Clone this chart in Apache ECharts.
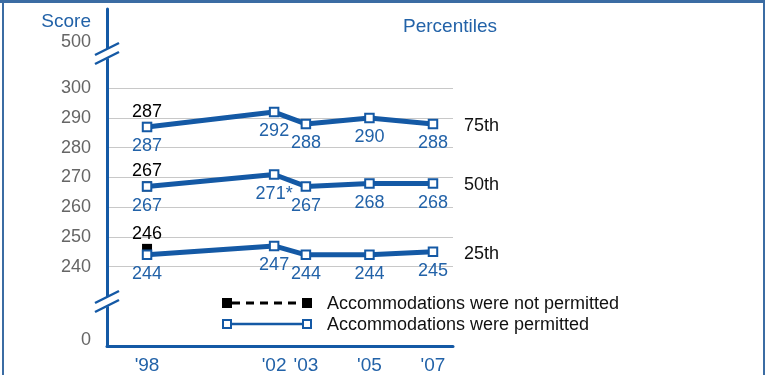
<!DOCTYPE html>
<html>
<head>
<meta charset="utf-8">
<script src="https://cdn.jsdelivr.net/npm/echarts@6/dist/echarts.min.js"></script>
<style>
  html, body { margin: 0; padding: 0; background: #fff; }
  #chart { width: 765px; height: 375px; }
</style>
</head>
<body>
<div id="chart"></div>
<script>
// years on the x axis (placed by year, so '02 and '03 sit close together)
const years = [1998, 2002, 2003, 2005, 2007];

// accommodations permitted
const p75 = [287, 292, 288, 290, 288];
const p50 = [267, 271, 267, 268, 268];
const p25 = [244, 247, 244, 244, 245];
const p50Notes = ['', '*', '', '', ''];

// accommodations not permitted (1998 only)
const notPermittedYear = 1998;
const np75 = 287;
const np50 = 267;
const np25 = 246;

const gridTicks = [240, 250, 260, 270, 280, 290, 300];
// the broken axis: "0" and "500" are drawn at these spots on the scale
const breakLow = 215.35;
const breakHigh = 315.6;

const BLUE = '#1459a5';
const TEXT_BLUE = '#2262a8';
const FONT = 'Liberation Sans, Arial, sans-serif';

const chart = echarts.init(document.getElementById('chart'));

function permittedSeries(name, values, endName, notes) {
  return {
    name: name,
    type: 'line',
    z: 4,
    data: years.map((y, i) => [y, values[i]]),
    lineStyle: { color: BLUE, width: 5 },
    symbol: 'rect',
    symbolSize: 8.5,
    itemStyle: { color: '#fff', borderColor: BLUE, borderWidth: 2 },
    label: {
      show: true,
      position: 'bottom',
      distance: 5,
      color: TEXT_BLUE,
      fontSize: 18,
      fontFamily: FONT,
      formatter: p => p.value[1] + (notes ? notes[p.dataIndex] : '')
    },
    endLabel: {
      show: true,
      formatter: endName,
      color: '#111',
      fontSize: 18,
      fontFamily: FONT,
      distance: 31,
      offset: [0, 2]
    },
    animation: false
  };
}

function notPermittedSeries(name, value) {
  return {
    name: name,
    type: 'line',
    z: 2,
    data: [[notPermittedYear, value]],
    symbol: 'rect',
    symbolSize: 10,
    itemStyle: { color: '#000' },
    label: {
      show: true,
      position: 'top',
      distance: 1,
      color: '#000',
      fontSize: 18,
      fontFamily: FONT
    },
    animation: false
  };
}

const option = {
  animation: false,
  textStyle: { fontFamily: FONT },
  title: {
    text: 'Percentiles',
    left: 398,
    top: 12,
    textStyle: { color: TEXT_BLUE, fontSize: 19, fontWeight: 'normal', fontFamily: FONT }
  },
  grid: { left: 107, right: 312, top: 9, bottom: 28 },
  xAxis: {
    type: 'value',
    min: 1996.74,
    max: 2007.63,
    axisLine: { show: true, onZero: false, lineStyle: { color: BLUE, width: 3 } },
    axisTick: { show: false },
    splitLine: { show: false },
    axisLabel: {
      customValues: years,
      formatter: v => "'" + String(v).slice(2),
      color: TEXT_BLUE,
      fontSize: 19,
      margin: 10
    }
  },
  yAxis: {
    type: 'value',
    min: 213.34,
    max: 326.65,
    name: 'Score',
    nameLocation: 'end',
    nameGap: -13,
    nameTextStyle: {
      color: TEXT_BLUE, fontSize: 19, align: 'right', verticalAlign: 'middle',
      padding: [0, 16, 0, 0]
    },
    axisLine: { show: true, lineStyle: { color: BLUE, width: 3 } },
    axisTick: { show: false, customValues: gridTicks },
    splitLine: { show: true, lineStyle: { color: '#c8c8c8', width: 1 } },
    axisLabel: {
      customValues: [breakLow].concat(gridTicks, [breakHigh]),
      formatter: v => v === breakLow ? '0' : (v === breakHigh ? '500' : String(v)),
      color: v => (v === breakLow || v === breakHigh) ? TEXT_BLUE : '#666',
      fontSize: 18,
      margin: 16
    }
  },
  series: [
    notPermittedSeries('np75', np75),
    notPermittedSeries('np50', np50),
    notPermittedSeries('np25', np25),
    permittedSeries('p75', p75, '75th'),
    permittedSeries('p50', p50, '50th', p50Notes),
    permittedSeries('p25', p25, '25th')
  ],
  graphic: [
    // frame
    { type: 'rect', shape: { x: 0, y: 0, width: 765, height: 3 }, style: { fill: '#3b6ca3' }, z: 100 },
    { type: 'rect', shape: { x: 2, y: 0, width: 2, height: 375 }, style: { fill: '#3b6ca3' }, z: 100 },
    { type: 'rect', shape: { x: 763, y: 0, width: 2, height: 375 }, style: { fill: '#3b6ca3' }, z: 100 },
    // axis breaks
    { type: 'polygon', shape: { points: [[95, 55], [119, 43], [119, 53], [95, 65]] }, style: { fill: '#fff' }, z: 100 },
    { type: 'line', shape: { x1: 95, y1: 55, x2: 119, y2: 43 }, style: { stroke: BLUE, lineWidth: 2.5 }, z: 101 },
    { type: 'line', shape: { x1: 95, y1: 64, x2: 119, y2: 52 }, style: { stroke: BLUE, lineWidth: 2.5 }, z: 101 },
    { type: 'polygon', shape: { points: [[95, 303], [119, 291], [119, 301], [95, 313]] }, style: { fill: '#fff' }, z: 100 },
    { type: 'line', shape: { x1: 95, y1: 303, x2: 119, y2: 291 }, style: { stroke: BLUE, lineWidth: 2.5 }, z: 101 },
    { type: 'line', shape: { x1: 95, y1: 312, x2: 119, y2: 300 }, style: { stroke: BLUE, lineWidth: 2.5 }, z: 101 },
    // legend
    { type: 'line', shape: { x1: 232, y1: 303, x2: 302, y2: 303 }, style: { stroke: '#000', lineWidth: 3, lineDash: [8, 6] }, z: 100 },
    { type: 'rect', shape: { x: 222, y: 298, width: 10, height: 10 }, style: { fill: '#000' }, z: 101 },
    { type: 'rect', shape: { x: 302, y: 298, width: 10, height: 10 }, style: { fill: '#000' }, z: 101 },
    { type: 'text', x: 327, y: 304, style: { text: 'Accommodations were not permitted', fill: '#111', fontSize: 18, fontFamily: FONT, verticalAlign: 'middle' }, z: 100 },
    { type: 'line', shape: { x1: 227, y1: 324, x2: 307, y2: 324 }, style: { stroke: BLUE, lineWidth: 2.5 }, z: 100 },
    { type: 'rect', shape: { x: 223, y: 320, width: 8, height: 8 }, style: { fill: '#fff', stroke: BLUE, lineWidth: 2 }, z: 101 },
    { type: 'rect', shape: { x: 303, y: 320, width: 8, height: 8 }, style: { fill: '#fff', stroke: BLUE, lineWidth: 2 }, z: 101 },
    { type: 'text', x: 327, y: 325, style: { text: 'Accommodations were permitted', fill: '#111', fontSize: 18, fontFamily: FONT, verticalAlign: 'middle' }, z: 100 }
  ]
};

chart.setOption(option);
</script>
</body>
</html>
